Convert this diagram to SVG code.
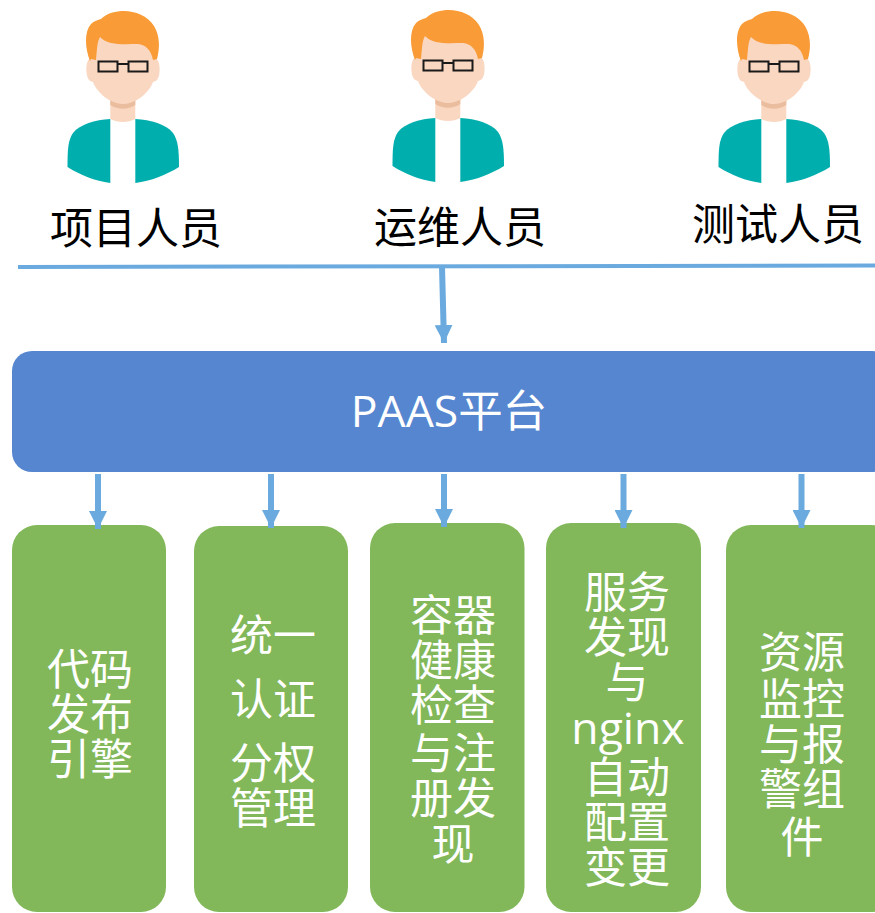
<svg xmlns="http://www.w3.org/2000/svg" width="875" height="913" viewBox="0 0 875 913">
<style>
.cjk{font-family:"Open Sans","Noto Sans CJK SC",sans-serif;font-size:43px;text-anchor:middle}
.w{fill:#fff}
.k{fill:#000}
.g{fill:#82b85a}
.c{fill:none;stroke:#6aaade;stroke-width:6}
</style>
<defs>
<marker id="ah" markerUnits="userSpaceOnUse" markerWidth="18" markerHeight="18" refX="18" refY="9" orient="auto"><path d="M0 0L18 9L0 18Z" fill="#6aaade"/></marker>
<g id="person">
<path d="M67.500 167C67.500 150 68 140 73 133C80 124 95 120 110.300 119V183C95 181 80 175 67.500 167Z" fill="#00aeae"/>
<path d="M179 167C179 150 178 140 173 133C166 124 151 120 135.300 119V183C151 181 166 175 179 167Z" fill="#00aeae"/>
<path d="M110.300 100H135.300V119C128 123 118 123 110.300 119Z" fill="#fad7c1"/>
<path d="M110.300 100H135.300V105C128 110 118 110 110.300 105Z" fill="#ebbd9f"/>
<path d="M92 58C87 58 86 66 86.500 72C87 78 89 82 94 82ZM154 58C159 58 160 66 159.500 72C159 78 157 82 152 82Z" fill="#fad7c1"/>
<path d="M96 36C90 60 89 78 96 88C104 99 115 104 123 104C131 104 142 99 150 88C157 78 156 60 150 36Z" fill="#fad7c1"/>
<path d="M90 61C85 48 84 32 91 24C94 21 98 20 101 19C107 13 116 11 124 11C135 11 148 16 154 26C160 36 160 48 157 59L153 60C151 50 146 45 138 44C125 44 108 46 100 37C97 42 97 50 96 60L91 59Z" fill="#f99b36"/>
<path d="M98.500 61.500H117.500V71.500H98.500ZM128.500 61.500H147.500V71.500H128.500ZM117.500 64H128.500" fill="none" stroke="#1a1a1a" stroke-width="2"/>
</g>
</defs>
<g id="person-1"><use href="#person"/><text class="cjk k" x="136" y="244">项目人员</text></g>
<g id="person-2"><use href="#person" x="325" y="-1"/><text class="cjk k" x="460" y="243">运维人员</text></g>
<g id="person-3"><use href="#person" x="651" y="0"/><text class="cjk k" x="778" y="240">测试人员</text></g>
<g id="paas"><rect x="12" y="351" width="880" height="121" rx="20" fill="#5586cf"/><text class="cjk w" x="449" y="427" style="font-size:44.500px">PAAS平台</text></g>
<g id="n1"><rect class="g" x="12" y="525" width="154" height="387" rx="25"/><text class="cjk w"><tspan x="90" y="685">代码</tspan><tspan x="90" y="730">发布</tspan><tspan x="90" y="775">引擎</tspan></text></g>
<g id="n2"><rect class="g" x="194" y="526" width="154" height="386" rx="25"/><text class="cjk w"><tspan x="273" y="651">统一</tspan><tspan x="273" y="715">认证</tspan><tspan x="273" y="779">分权</tspan><tspan x="273" y="824">管理</tspan></text></g>
<g id="n3"><rect class="g" x="370" y="523" width="154.500" height="389" rx="25"/><text class="cjk w"><tspan x="453" y="631">容器</tspan><tspan x="453" y="676">健康</tspan><tspan x="453" y="721">检查</tspan><tspan x="453" y="769">与注</tspan><tspan x="453" y="814">册发</tspan><tspan x="453" y="860">现</tspan></text></g>
<g id="n4"><rect class="g" x="546" y="523" width="155" height="389" rx="25"/><text class="cjk w"><tspan x="627" y="608">服务</tspan><tspan x="627" y="653">发现</tspan><tspan x="627" y="698">与</tspan><tspan x="628" y="744" style="font-size:44.500px">nginx</tspan><tspan x="627" y="793">自动</tspan><tspan x="627" y="838">配置</tspan><tspan x="627" y="883">变更</tspan></text></g>
<g id="n5"><rect class="g" x="726" y="525" width="170" height="387" rx="25"/><text class="cjk w"><tspan x="802" y="668">资源</tspan><tspan x="802" y="715">监控</tspan><tspan x="802" y="760">与报</tspan><tspan x="802" y="805">警组</tspan><tspan x="802" y="853">件</tspan></text></g>
<g id="connectors">
<path d="M18 267L875 265.500" fill="none" stroke="#6aaade" stroke-width="4"/>
<path class="c" marker-end="url(#ah)" d="M442 267L444 343"/>
<path class="c" marker-end="url(#ah)" d="M98 474V529"/>
<path class="c" marker-end="url(#ah)" d="M271 474V528"/>
<path class="c" marker-end="url(#ah)" d="M444 474V527"/>
<path class="c" marker-end="url(#ah)" d="M623.500 474V528"/>
<path class="c" marker-end="url(#ah)" d="M801.500 474V528"/>
</g>
</svg>
